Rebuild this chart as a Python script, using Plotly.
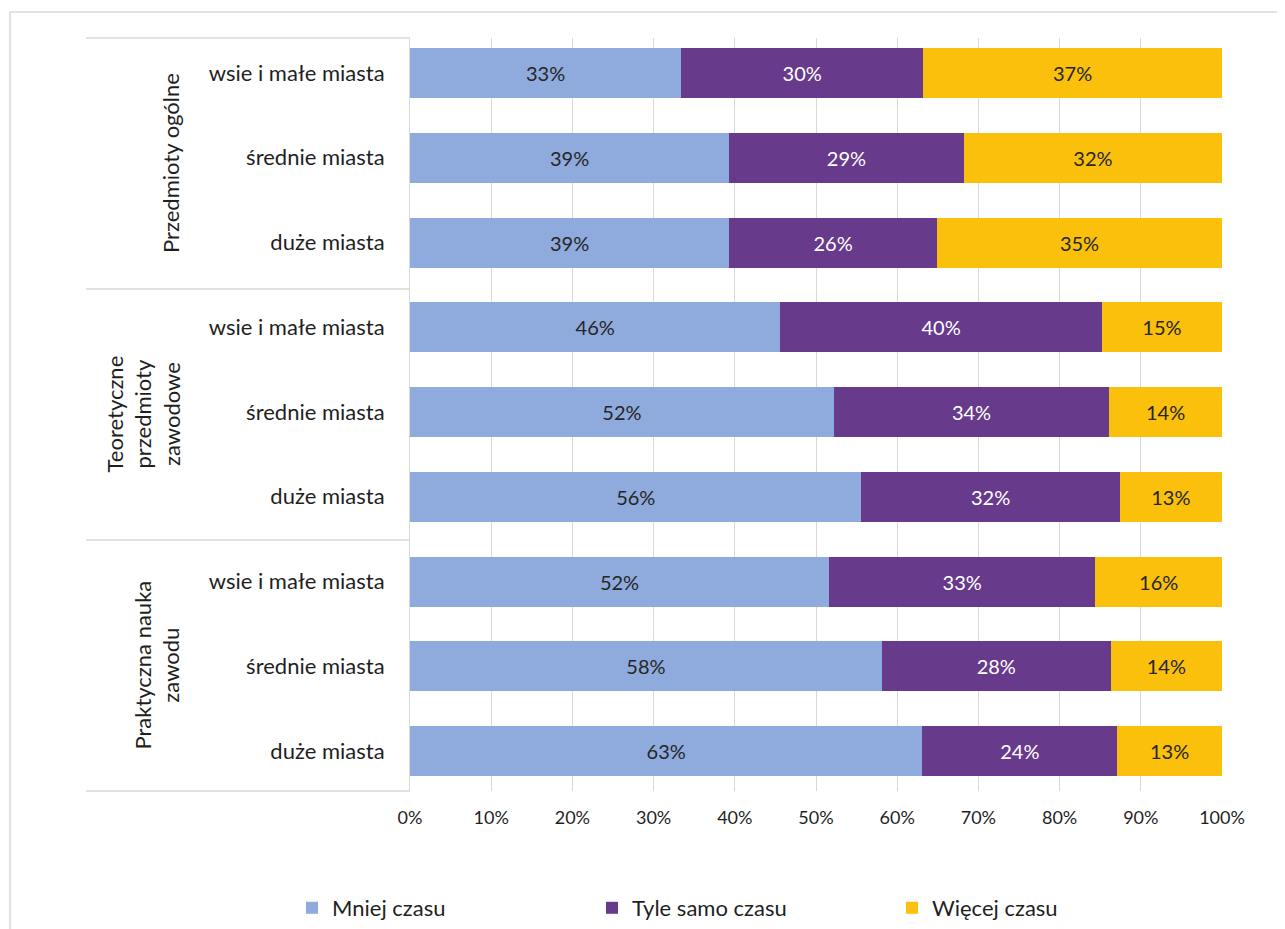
import plotly.graph_objects as go

groups = ["Przedmioty ogólne", "Teoretyczne<br>przedmioty<br>zawodowe", "Praktyczna nauka<br>zawodu"]
subcats = ["wsie i małe miasta", "średnie miasta", "duże miasta"]
series_names = ["Mniej czasu", "Tyle samo czasu", "Więcej czasu"]
mniej = [33.4, 39.3, 39.3, 45.6, 52.2, 55.6, 51.6, 58.1, 63.1]
tyle = [29.8, 28.9, 25.6, 39.6, 33.9, 31.8, 32.8, 28.2, 24.0]
wiecej = [36.8, 31.8, 35.1, 14.8, 13.9, 12.6, 15.6, 13.7, 12.9]
x_ticks = [0, 10, 20, 30, 40, 50, 60, 70, 80, 90, 100]

colors = ["#8FAADC", "#673A8C", "#FBC00B"]
text_colors = ["#262626", "#FFFFFF", "#262626"]
FONT = "Lato"
TXT = "#1f1f1f"

row_labels = [s for g in groups for s in subcats]
y_pos = list(range(len(row_labels)))

fig = go.Figure()
for name, vals, c, tc in zip(series_names, [mniej, tyle, wiecej], colors, text_colors):
    fig.add_trace(go.Bar(
        y=y_pos, x=vals, name=name, orientation="h",
        marker=dict(color=c, line=dict(width=0)),
        texttemplate="%{x:.0f}%", textposition="inside", insidetextanchor="middle",
        textfont=dict(color=tc, size=20, family=FONT),
        hoverinfo="skip",
    ))

OFF = 8  # page body margin
W, H = 1285, 929
L, T = 410 - OFF, 38 - OFF
R = W - (1222 - OFF)
B = H - (791 - OFF)
pw, ph = W - L - R, H - T - B

def px_x(sx):
    return (sx - OFF - L) / pw

def px_y(sy):
    return (H - B - (sy - OFF)) / ph

# category band geometry (bar centre spacing and offsets)
band = 84.75
y_top = -(73 - 38) / band
y_bot = (len(row_labels) - 1) + (791 - 751) / band

fig.update_layout(
    width=W, height=H,
    barmode="stack", bargap=0.41,
    margin=dict(l=L, r=R, t=T, b=B, autoexpand=False),
    paper_bgcolor="white", plot_bgcolor="white",
    font=dict(family=FONT, color=TXT),
    showlegend=True,
    legend=dict(orientation="h", x=px_x(292), xanchor="left",
                y=px_y(908), yanchor="middle",
                font=dict(size=22, family=FONT, color=TXT), entrywidth=255, entrywidthmode="pixels",
                traceorder="normal"),
    xaxis=dict(range=[0, 100], tickvals=x_ticks, ticktext=[f"{v}%" for v in x_ticks],
               showgrid=True, gridcolor="#D9D9D9", gridwidth=1, zeroline=False, showline=False,
               ticks="", tickfont=dict(size=18, family=FONT, color=TXT), ticklabelstandoff=14,
               fixedrange=True),
    yaxis=dict(range=[y_bot, y_top], tickvals=y_pos, ticktext=row_labels,
               showgrid=False, zeroline=False, showline=True, linecolor="#D9D9D9", linewidth=1,
               ticks="", tickfont=dict(size=22, family=FONT, color=TXT), ticklabelstandoff=20,
               fixedrange=True),
)

# group dividers (plot area split into equal thirds)
ng = len(groups)
for i in range(ng + 1):
    yb = i / ng
    fig.add_shape(type="line", xref="paper", yref="paper", x0=px_x(86), x1=0, y0=yb, y1=yb,
                  line=dict(color="#D9D9D9", width=1.5), layer="below")

# group labels
for i, g in enumerate(groups):
    yc = 1 - (i + 0.5) / ng
    fig.add_annotation(text=g, xref="paper", yref="paper", x=px_x(186), y=yc, xanchor="right",
                       yanchor="middle", textangle=-90, showarrow=False, align="center",
                       font=dict(size=22, family=FONT, color=TXT))

# outer border
fig.add_shape(type="rect", xref="paper", yref="paper", x0=px_x(10), x1=px_x(1320),
              y0=px_y(960), y1=px_y(12), line=dict(color="#D9D9D9", width=1.5), layer="below")

fig.write_html("out.html")
